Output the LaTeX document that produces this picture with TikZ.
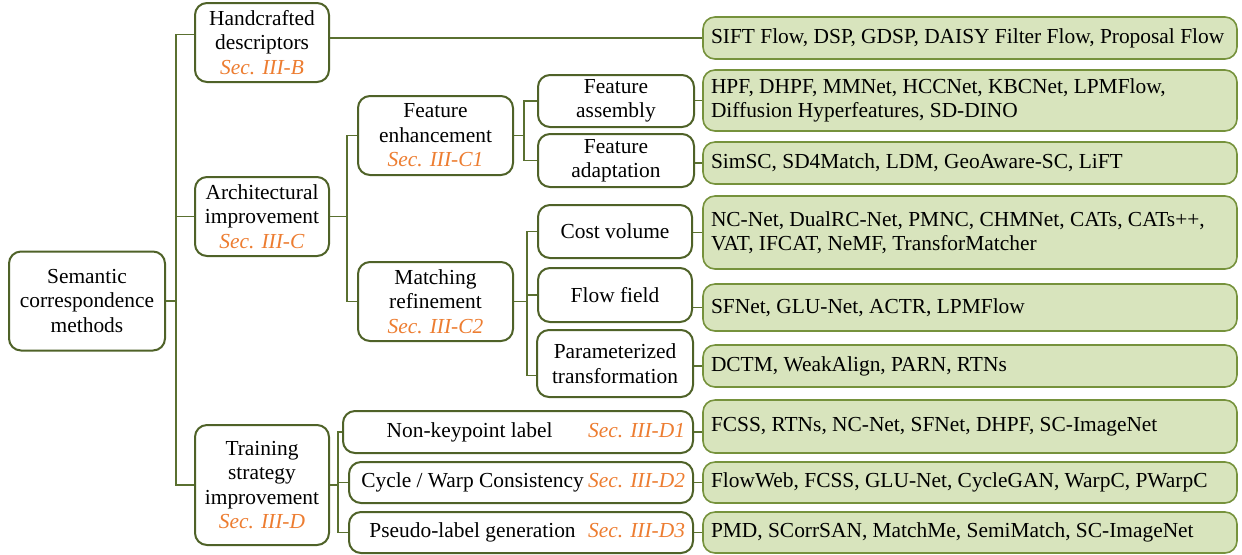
\documentclass[tikz,border=0pt]{standalone}
\usepackage{fontspec}
\setmainfont{Liberation Serif}
\newfontfamily\treefont{Liberation Serif}
\usepackage{tikz}
\usetikzlibrary{calc}
\definecolor{boxline}{RGB}{79,98,40}
\definecolor{connline}{RGB}{90,112,48}
\definecolor{leafline}{RGB}{118,146,60}
\definecolor{leaffill}{RGB}{216,228,189}
\definecolor{secorange}{RGB}{237,125,49}
\newcommand{\secref}[1]{\textcolor{secorange}{\textit{Sec. #1}}}

\begin{document}
\begin{tikzpicture}[x=0.5pt,y=-0.5pt,
    every node/.style={font=\treefont\fontsize{10.7}{12.2}\selectfont},
    catbox/.style={draw=boxline,line width=1pt,rounded corners=6pt,fill=white,align=center,inner sep=2pt},
    itembox/.style={draw=boxline,line width=1pt,rounded corners=6pt,fill=white,inner sep=4pt,text width=#1,align=flush left},
    leafbox/.style={draw=leafline,line width=0.8pt,rounded corners=6pt,fill=leaffill,align=flush left,inner sep=4pt,text width=259pt,minimum width=267pt},
    conn/.style={draw=connline,line width=0.9pt}]
          \useasboundingbox (0,0) rectangle (1242,554);
          % left column
          \node[catbox,minimum width=78pt,minimum height=49.5pt] (root) at (87,301) {Semantic\\correspondence\\methods};
          \node[catbox,minimum width=67pt,minimum height=39.5pt] (hand) at (262,42.5) {Handcrafted\\descriptors\\\secref{III-B}};
          \node[catbox,minimum width=67pt,minimum height=39.5pt] (arch) at (262,216.5) {Architectural\\improvement\\\secref{III-C}};
          \node[catbox,minimum width=67pt,minimum height=60pt] (train) at (262,485) {Training\\strategy\\improvement\\\secref{III-D}};
          % second column
          \node[catbox,minimum width=77.5pt,minimum height=39.5pt] (enh) at (435.5,135.5) {Feature\\enhancement\\\secref{III-C1}};
          \node[catbox,minimum width=77.5pt,minimum height=39.5pt] (match) at (435.5,301.5) {Matching\\refinement\\\secref{III-C2}};
          \node[catbox,minimum width=78pt,minimum height=26pt] (assem) at (616,101) {Feature\\assembly};
          \node[catbox,minimum width=78pt,minimum height=26.5pt] (adapt) at (616,160.5) {Feature\\adaptation};
          \node[catbox,minimum width=77pt,minimum height=26.5pt] (cost) at (615,231.5) {Cost volume};
          \node[catbox,minimum width=77pt,minimum height=27pt] (flow) at (615,295) {Flow field};
          \node[catbox,minimum width=78pt,minimum height=33.5pt] (param) at (615,363.5) {Parameterized\\transformation};
          \node[itembox=167pt,minimum height=21pt] (nonkp) at (518,432) {\hfill Non-keypoint label\hfill\secref{III-D1}};
          \node[itembox=164pt,minimum height=20.5pt] (cycle) at (521,482.5) {\hfill Cycle / Warp Consistency\hfill\secref{III-D2}};
          \node[itembox=164pt,minimum height=20.5pt] (pseudo) at (521,532.5) {\hfill Pseudo-label generation\hfill\secref{III-D3}};
          % method lists
          \node[leafbox,minimum height=21pt] (l1) at (970,38) {SIFT Flow, DSP, GDSP, DAISY Filter Flow, Proposal Flow};
          \node[leafbox,minimum height=30.5pt] (l2) at (970,100.5) {HPF, DHPF, MMNet, HCCNet, KBCNet, LPMFlow,\\Diffusion Hyperfeatures, SD-DINO};
          \node[leafbox,minimum height=21pt] (l3) at (970,163) {SimSC, SD4Match, LDM, GeoAware-SC, LiFT};
          \node[leafbox,minimum height=36.5pt] (l4) at (970,232.5) {NC-Net, DualRC-Net, PMNC, CHMNet, CATs, CATs++,\\VAT, IFCAT, NeMF, TransforMatcher};
          \node[leafbox,minimum height=23.5pt] (l5) at (970,307.5) {SFNet, GLU-Net, ACTR, LPMFlow};
          \node[leafbox,minimum height=21pt] (l6) at (970,366) {DCTM, WeakAlign, PARN, RTNs};
          \node[leafbox,minimum height=26.5pt] (l7) at (970,426.5) {FCSS, RTNs, NC-Net, SFNet, DHPF, SC-ImageNet};
          \node[leafbox,minimum height=20.5pt] (l8) at (970,482.5) {FlowWeb, FCSS, GLU-Net, CycleGAN, WarpC, PWarpC};
          \node[leafbox,minimum height=20.5pt] (l9) at (970,532.5) {PMD, SCorrSAN, MatchMe, SemiMatch, SC-ImageNet};
          % tree lines
          \coordinate (t1) at (176,301);
          \coordinate (t2) at (347,216.5);
          \coordinate (t3) at (524,135.5);
          \coordinate (t4) at (527,301.5);
          \coordinate (t5) at (338,485);
          \draw[conn] (root.east) -- (t1);
          \draw[conn] ([yshift=4pt]hand.west) -| (t1) |- (train.west);
          \draw[conn] (arch.west) -- (arch.west -| t1);
          \draw[conn] (arch.east) -- (t2);
          \draw[conn] (enh.west) -| (t2) |- (match.west);
          \draw[conn] (enh.east) -- (t3);
          \draw[conn] (assem.west) -| (t3) |- (adapt.west);
          \draw[conn] (match.east) -- (t4);
          \draw[conn] (cost.west) -| (t4) |- ([yshift=-6pt]param.west);
          \draw[conn] (flow.west) -- (flow.west -| t4);
          \draw[conn] (train.east) -- (t5);
          \draw[conn] (nonkp.west) -| (t5) |- (pseudo.west);
          \draw[conn] (cycle.west) -- (cycle.west -| t5);
          % to method lists
          \draw[conn] (l1.west) -- (l1.west -| hand.east);
          \draw[conn] (l2.west) -- (l2.west -| assem.east);
          \draw[conn] (l3.west) -- (l3.west -| adapt.east);
          \draw[conn] (l4.west) -- (l4.west -| cost.east);
          \draw[conn] (l5.west) -- (l5.west -| flow.east);
          \draw[conn] (l6.west) -- (l6.west -| param.east);
          \draw[conn] (nonkp.east) -- (nonkp.east -| l7.west);
          \draw[conn] (l8.west) -- (l8.west -| cycle.east);
          \draw[conn] (l9.west) -- (l9.west -| pseudo.east);
        \end{tikzpicture}
\end{document}
